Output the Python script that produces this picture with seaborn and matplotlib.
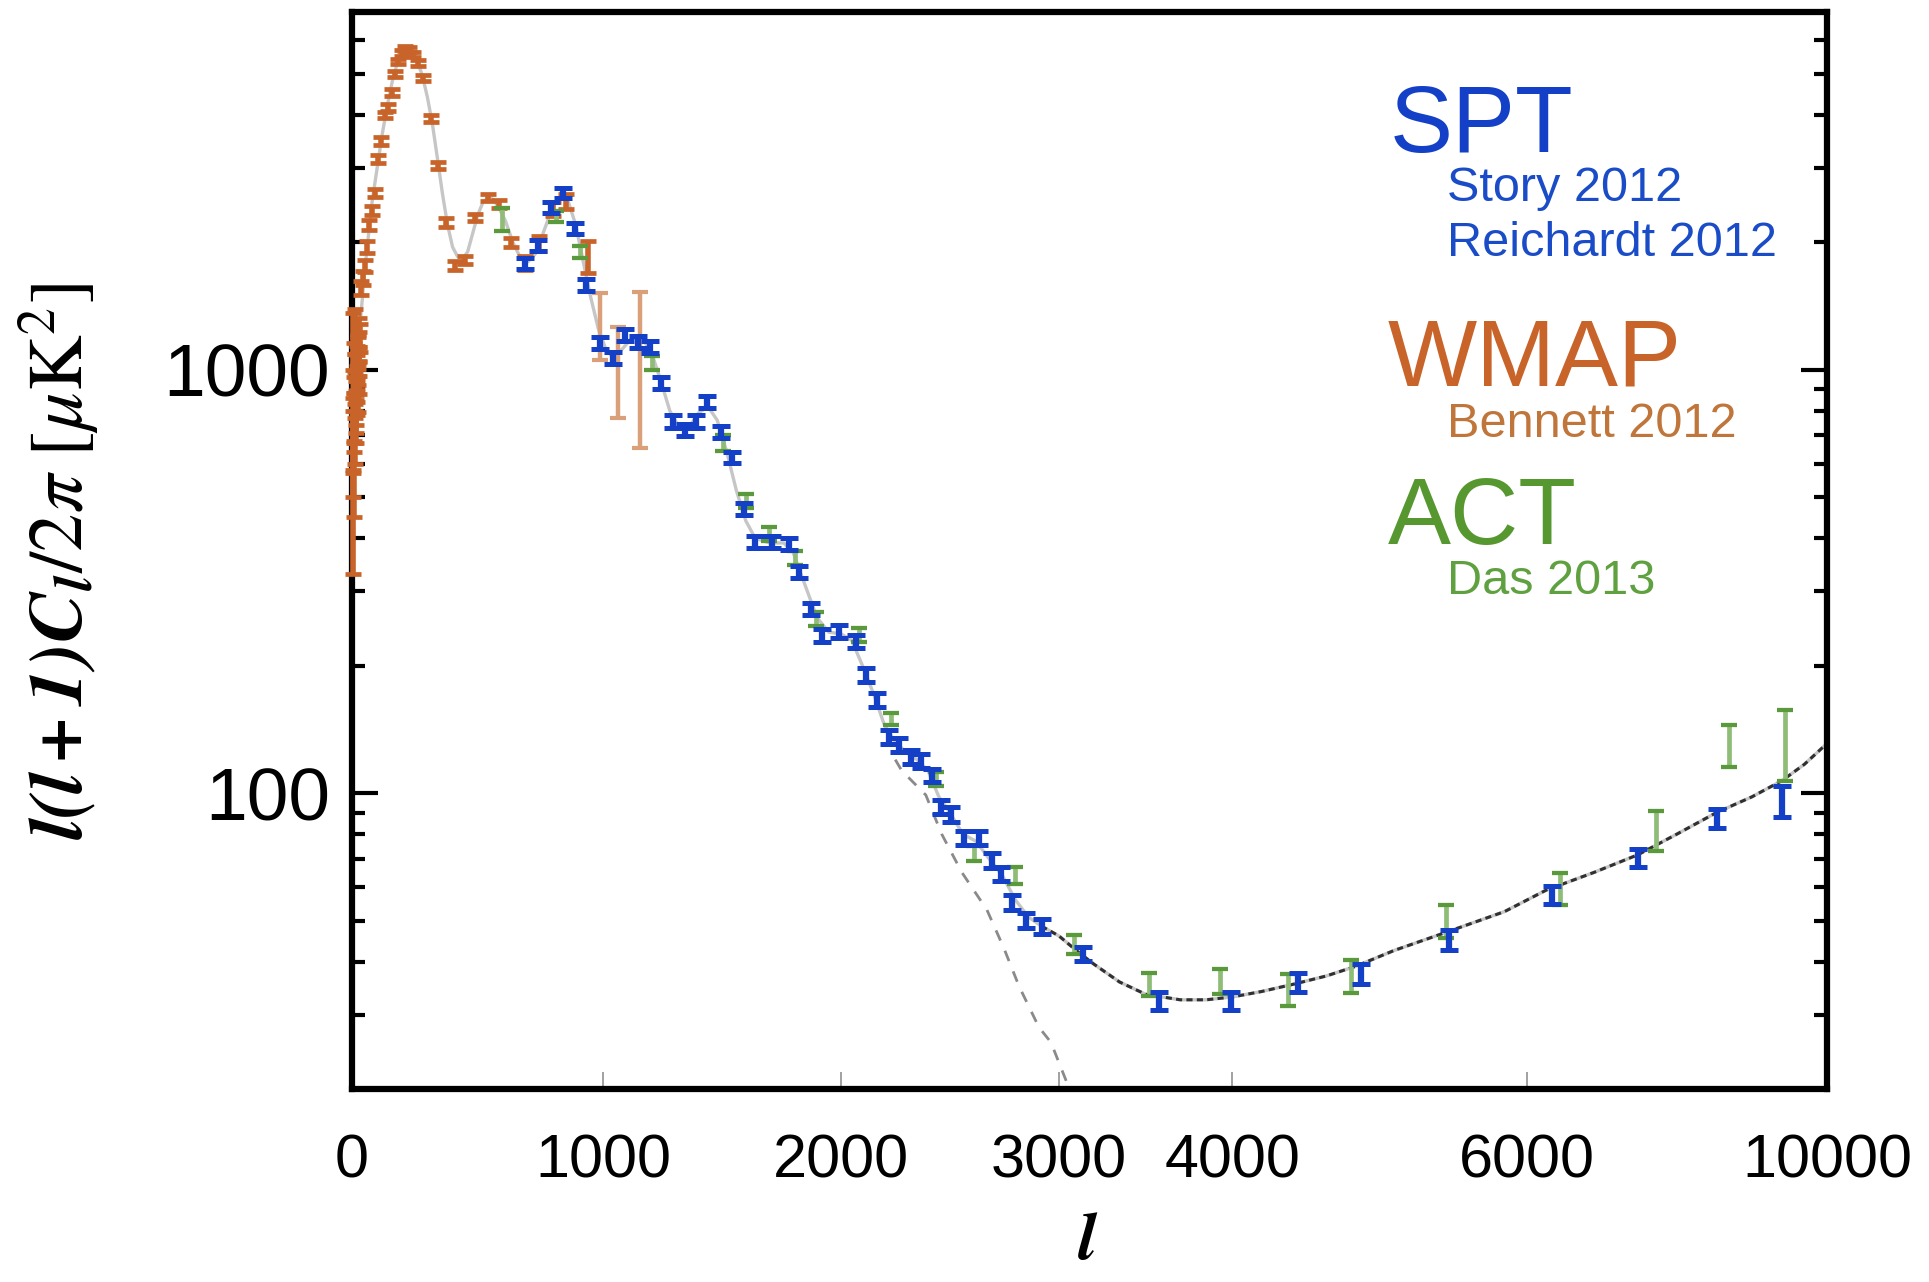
import numpy as np
import matplotlib
matplotlib.use("Agg")
import matplotlib.pyplot as plt
import seaborn as sns
from matplotlib.ticker import FixedLocator, LogLocator, NullFormatter, NullLocator

# ---------------- data ----------------
# WMAP (Bennett 2012)
wmap_l = [2, 3, 4, 5, 6, 7, 8, 9, 10, 11, 12, 13, 14, 15, 16, 17, 18, 19, 20, 21,
          22, 23, 24, 25, 26, 27, 28, 29, 30,
          36, 44, 52, 60, 68, 78, 90, 104, 116, 131, 143, 157, 170, 183, 197, 212,
          228, 244, 262, 283, 315, 343, 375, 410, 450, 490, 540, 585, 634,
          690, 745, 800, 850, 940, 988, 1060, 1155]
wmap_v = [450, 650, 720, 1180, 820, 560, 760, 1020, 960, 1240, 700, 880, 840, 760, 980,
          800, 870, 1040, 990, 930, 1010, 1100, 880, 1120, 1230, 960, 1050, 1140, 1190,
          1560, 1650, 1760, 1950, 2200, 2380, 2620, 3150, 3470, 4000, 4160, 4520, 4990,
          5350, 5600, 5750, 5720, 5560, 5300, 4890, 3920, 3040, 2230, 1765, 1815, 2290,
          2550, 2470, 2000,
          1790, 1990, 2400, 2500, 1855, 1287, 1016, 1090]
wmap_e = [120, 150, 140, 180, 140, 110, 120, 140, 130, 150, 100, 110, 100, 90, 110,
          90, 90, 100, 95, 90, 90, 95, 85, 90, 95, 85, 85, 90, 90,
          60, 60, 60, 60, 60, 60, 60, 70, 70, 75, 80, 80, 80, 80, 80, 80, 80, 80, 80,
          80, 70, 60, 50, 40, 40, 45, 50, 55, 50,
          70, 80, 90, 100, 165, 231, 245, 435]

# SPT (Story 2012, Reichardt 2012)
spt_l = [689, 741, 793, 841, 888, 932, 988, 1042, 1093, 1148, 1198, 1241, 1295, 1346,
         1392, 1435, 1494, 1540, 1591, 1641, 1709, 1781, 1823, 1873, 1920, 1992, 2069,
         2115, 2165, 2220, 2266, 2321, 2367, 2417, 2459, 2505, 2564, 2633, 2693, 2734,
         2784, 2849, 2922, 3139, 3578, 3994, 4449, 4878, 5476, 6343, 7478, 8535, 9406]
spt_v = [1785, 1970, 2420, 2620, 2160, 1585, 1160, 1067, 1210, 1163, 1133, 932, 755,
         722, 755, 840, 714, 621, 469, 392, 392, 388, 333, 272, 236, 241, 228, 190,
         166, 136, 130, 122, 119, 110, 93, 89, 78.5, 78.5, 69.4, 64.5, 55.2, 50.1,
         48.4, 41.7, 32.4, 32.4, 35.8, 37.4, 45.0, 57.4, 70.4, 87.1, 96.0]
spt_e = [55, 60, 70, 75, 65, 50, 38, 35, 40, 38, 36, 30, 25, 24, 25, 28, 23, 20, 16,
         13, 13, 13, 11, 9, 8, 8, 8, 7, 6, 5, 5, 4.5, 4.5, 4, 3.5, 3.5, 3, 3, 2.8,
         2.6, 2.3, 2.1, 2.0, 1.5, 1.6, 1.6, 1.9, 2.0, 2.5, 2.8, 3.3, 4.5, 8.0]

# ACT (Das 2013)
act_l = [598, 813, 908, 1203, 1506, 1600, 1700, 1806, 1895, 2083, 2229, 2436, 2610,
         2800, 3087, 3520, 3930, 4380, 4810, 5456, 6450, 7730, 8700, 9440]
act_v = [2270, 2300, 1900, 1040, 673, 490, 410, 360, 258, 236, 150, 108, 72, 64, 44,
         35.4, 36, 34.4, 37, 50, 59.7, 82, 130, 132]
act_e = [140, 70, 60, 40, 30, 18, 15, 14, 10, 9, 5, 4, 3, 3, 2.3, 2.2, 2.4, 2.9, 3.3,
         4.5, 5.2, 8.8, 14.5, 25]

# best-fit model: total (CMB + foregrounds)
model_l = [2, 10, 20, 30, 40, 50, 60, 70, 80, 100, 120, 140, 160, 180, 200, 220, 240,
           260, 280, 300, 320, 340, 360, 380, 400, 420, 440, 460, 480, 500, 520, 540,
           560, 580, 610, 640, 670, 700, 730, 760, 790, 820, 840, 860, 890, 920, 950,
           980, 1010, 1040, 1080, 1120, 1160, 1200, 1240, 1280, 1320, 1360, 1400, 1440,
           1480, 1520, 1560, 1600, 1640, 1700, 1760, 1800, 1850, 1900, 1950, 2000, 2050,
           2100, 2150, 2200, 2250, 2300, 2350, 2400, 2450, 2500, 2560, 2620, 2680, 2740,
           2800, 2860, 2920, 3000, 3100, 3200, 3350, 3500, 3700, 3850, 4000, 4200, 4420,
           4640, 4840, 5100, 5460, 5850, 6260, 6900, 7480, 8000, 8530, 9000, 9400, 9700,
           10000]
model_v = [1050, 1000, 1100, 1250, 1450, 1700, 1950, 2200, 2500, 3000, 3600, 4200, 4800,
           5300, 5600, 5750, 5650, 5350, 4950, 4400, 3800, 3150, 2600, 2200, 1950, 1850,
           1830, 1900, 2100, 2320, 2480, 2550, 2530, 2440, 2250, 2000, 1840, 1800, 1880,
           2100, 2350, 2550, 2580, 2500, 2200, 1800, 1480, 1250, 1120, 1070, 1120, 1190,
           1190, 1110, 950, 800, 730, 730, 790, 820, 760, 640, 520, 440, 400, 390, 390,
           370, 310, 260, 240, 238, 230, 200, 172, 145, 132, 125, 120, 113, 98, 90, 80,
           77, 70, 64, 56, 51, 48.5, 46, 42.5, 39.5, 35.8, 33.5, 32.5, 32.5, 33, 34,
           35.4, 37, 39, 42.5, 47, 52.5, 59, 65, 71.5, 80, 90, 98, 107, 117, 131]

# best-fit model: primary CMB only (damping tail)
cmb_l = [2250, 2280, 2390, 2463, 2555, 2670, 2748, 2817, 2908, 2963, 3040, 3080]
cmb_v = [120, 113, 99, 80, 65, 53, 43, 35, 28, 25.8, 21, 19]

x_ticks = [0, 1000, 2000, 3000, 4000, 6000, 10000]
x_tick_labels = ["0", "1000", "2000", "3000", "4000", "6000", "10000"]
y_ticks = [100, 1000]
y_tick_labels = ["100", "1000"]

# ---------------- style ----------------
sns.set_theme(style="white")
plt.rcParams["font.family"] = ["Liberation Sans", "DejaVu Sans"]
plt.rcParams["mathtext.fontset"] = "stix"
plt.rcParams["text.color"] = "black"
plt.rcParams["axes.labelcolor"] = "black"
plt.rcParams["xtick.color"] = "black"
plt.rcParams["ytick.color"] = "black"

C_SPT = "#1440c8"
C_WMAP = "#c8642a"
C_WMAP_LIGHT = "#d9a07a"
C_ACT = "#5a9a3c"
C_ACT_LIGHT = "#8fbd78"

fig = plt.figure(figsize=(19.29, 12.82), dpi=100)
ax = fig.add_axes([0.1825, 0.1505, 0.7646, 0.8401])

# model curves (seaborn)
ml = np.asarray(model_l, float)
mv = np.asarray(model_v, float)
sns.lineplot(x=ml, y=mv, ax=ax, color="#c6c6c6", linewidth=2.4,
             estimator=None, sort=False, zorder=2)
hi = ml >= 2900
sns.lineplot(x=ml[hi], y=mv[hi], ax=ax, color="#303030", linewidth=2.2,
             linestyle=(0, (2.0, 1.4)), estimator=None, sort=False, zorder=2)
sns.lineplot(x=cmb_l, y=cmb_v, ax=ax, color="#8a8a8a", linewidth=2.0,
             linestyle=(0, (4.0, 4.0)), estimator=None, sort=False, zorder=2)

# data points
wl = np.asarray(wmap_l, float); wv = np.asarray(wmap_v, float); we = np.asarray(wmap_e, float)
big = (we / wv > 0.12) & (wl > 500)
ax.errorbar(wl[~big], wv[~big], yerr=we[~big], fmt="none", ecolor=C_WMAP,
            elinewidth=4.0, capsize=6, capthick=3.4, zorder=3, clip_on=False)
ax.errorbar(wl[big], wv[big], yerr=we[big], fmt="none", ecolor=C_WMAP_LIGHT,
            elinewidth=3.2, capsize=6, capthick=3.0, zorder=3)

al = np.asarray(act_l, float); av = np.asarray(act_v, float); ae = np.asarray(act_e, float)
ax.errorbar(al, av, yerr=ae, fmt="none", ecolor=C_ACT_LIGHT, elinewidth=3.4,
            capsize=6, capthick=3.0, zorder=4)
# darker caps for ACT
ax.errorbar(al, av, yerr=ae, fmt="none", ecolor=C_ACT, elinewidth=0,
            capsize=6, capthick=3.0, zorder=4)

ax.errorbar(spt_l, spt_v, yerr=spt_e, fmt="none", ecolor=C_SPT, elinewidth=4.5,
            capsize=6.5, capthick=3.6, zorder=5)

# ---------------- axes & scales ----------------
_xk = np.array(x_ticks, float)
_xp = np.array([0, 251, 488, 706, 879, 1173, 1473], float)


def _fwd(x):
    x = np.asarray(x, float)
    y = np.interp(x, _xk, _xp)
    y = np.where(x < _xk[0], _xp[0] + (x - _xk[0]) * (_xp[1] - _xp[0]) / (_xk[1] - _xk[0]), y)
    y = np.where(x > _xk[-1], _xp[-1] + (x - _xk[-1]) * (_xp[-1] - _xp[-2]) / (_xk[-1] - _xk[-2]), y)
    return y


def _inv(y):
    y = np.asarray(y, float)
    x = np.interp(y, _xp, _xk)
    x = np.where(y < _xp[0], _xk[0] + (y - _xp[0]) * (_xk[1] - _xk[0]) / (_xp[1] - _xp[0]), x)
    x = np.where(y > _xp[-1], _xk[-1] + (y - _xp[-1]) * (_xk[-1] - _xk[-2]) / (_xp[-1] - _xp[-2]), x)
    return x


ax.set_xscale("function", functions=(_fwd, _inv))
ax.set_yscale("log")
ax.set_xlim(0, 10000)
ax.set_ylim(20, 7000)

ax.xaxis.set_major_locator(FixedLocator(x_ticks))
ax.set_xticklabels(x_tick_labels)
ax.xaxis.set_minor_locator(NullLocator())
ax.yaxis.set_major_locator(FixedLocator(y_ticks))
ax.set_yticklabels(y_tick_labels)
ax.yaxis.set_minor_locator(LogLocator(base=10, subs=np.arange(2, 10)))
ax.yaxis.set_minor_formatter(NullFormatter())

ax.tick_params(axis="x", which="major", direction="in", length=12, width=1.3,
               color="#9a9a9a", labelsize=44, pad=32, bottom=True, top=False,
               labelcolor="black")
ax.tick_params(axis="y", which="major", direction="in", length=19, width=3,
               color="black", labelsize=54, pad=16, left=True, right=True,
               labelcolor="black")
ax.tick_params(axis="y", which="minor", direction="in", length=9.5, width=3,
               color="black", left=True, right=True)

for s in ax.spines.values():
    s.set_visible(True)
    s.set_color("black")
    s.set_linewidth(4.5)
ax.set_facecolor("white")
fig.patch.set_facecolor("white")

ax.set_ylabel(r"$\mathbfit{l(l+1)C_l}/2\pi\ [\mu\mathrm{K}^2]$", fontsize=55,
              color="black")
ax.yaxis.set_label_coords(-0.170, 0.49)
ax.set_xlabel(r"$\mathbfit{l}$", fontsize=48, color="black")
ax.xaxis.set_label_coords(0.499, -0.113)

# ---------------- legend-like labels ----------------
W, H = 1929.0, 1282.0


def ftext(x, y, s, size, color):
    fig.text(x / W, 1 - y / H, s, fontsize=size, color=color, ha="left", va="baseline")


ftext(1390, 152, "SPT", 68, C_SPT)
ftext(1447, 201, "Story 2012", 35, "#1a4cc8")
ftext(1447, 256, "Reichardt 2012", 35, "#1a4cc8")
ftext(1388, 386, "WMAP", 68, C_WMAP)
ftext(1447, 437, "Bennett 2012", 35, "#c0753a")
ftext(1388, 544, "ACT", 68, "#56982f")
ftext(1447, 594, "Das 2013", 35, "#5fa040")

fig.savefig("out.png", dpi=100, facecolor="white")
